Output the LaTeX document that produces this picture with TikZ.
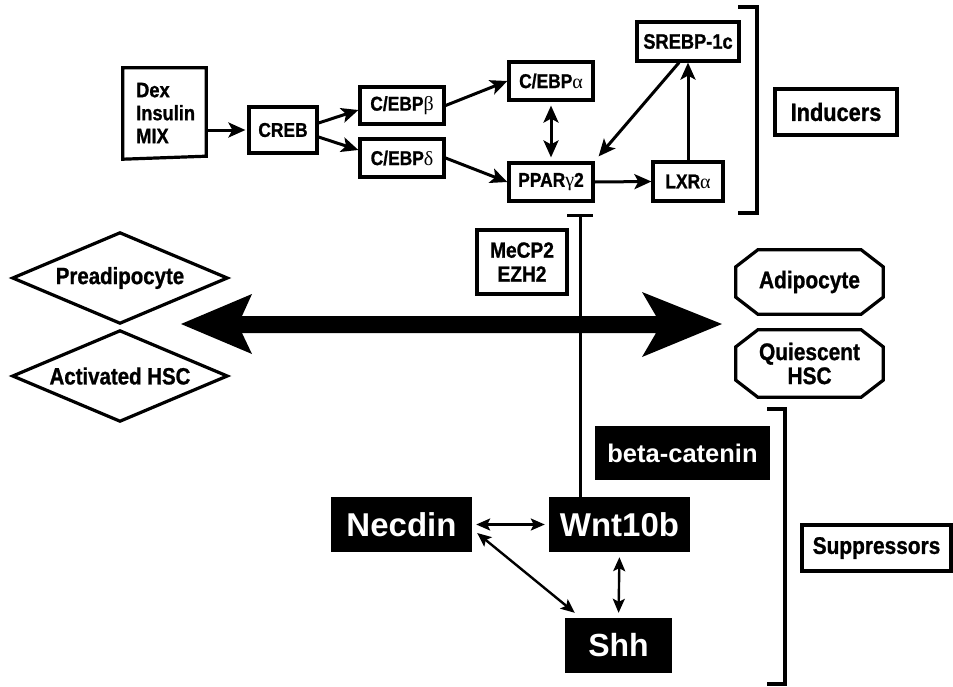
\documentclass[tikz,border=0pt]{standalone}
\usepackage{fontspec}
\setmainfont{Liberation Sans}[FakeStretch=0.87, BoldFeatures={FakeBold=1}]
\newfontfamily\widefont{Liberation Sans}
\newfontfamily\grk{Liberation Serif}
\usetikzlibrary{arrows.meta,calc}
\newcommand\fs[1]{\fontsize{#1}{#1}\selectfont}
\newcommand\gk[1]{{\grk\mdseries #1}}
\newcommand\myoct[1]{%
  \draw[line width=3.2pt,line join=miter]
   ([xshift=22pt]#1.north west) -- ([xshift=-22pt]#1.north east) --
   ([yshift=-17pt]#1.north east) -- ([yshift=17pt]#1.south east) --
   ([xshift=-22pt]#1.south east) -- ([xshift=22pt]#1.south west) --
   ([yshift=17pt]#1.south west) -- ([yshift=-17pt]#1.north west) -- cycle;}
\newcommand\mydiam[1]{%
  \draw[line width=3.2pt,line join=miter]
   (#1.west) -- (#1.north) -- (#1.east) -- (#1.south) -- cycle;}
\begin{document}
\begin{tikzpicture}[x=1pt,y=-1pt,
  lab/.style={draw, line width=3.2pt, inner sep=0pt, align=center, font=\bfseries\fs{20}},
  ghost/.style={inner sep=0pt, draw=none, align=center, font=\bfseries\fs{23.5}},
  blk/.style={fill=black, text=white, inner sep=0pt, font=\widefont\bfseries\fs{33}},
  arr/.style={line width=3pt, -{Stealth[length=17pt,width=15pt,inset=4pt]}},
  arrb/.style={line width=3pt, {Stealth[length=17pt,width=15pt,inset=4pt]}-{Stealth[length=17pt,width=15pt,inset=4pt]}},
  sarrb/.style={line width=2.4pt, {Stealth[length=14pt,width=12pt,inset=3pt]}-{Stealth[length=14pt,width=12pt,inset=3pt]}},
  inh/.style={line width=3pt}
]
\fill[white] (0,0) rectangle (953,686);
\useasboundingbox (0,0) rectangle (953,686);

% ---- inducers part
\node[ghost, minimum width=83pt, minimum height=91pt] (dexbox) at (164.5,113.5) {};
\draw[line width=3.2pt,line join=miter] (dexbox.north west) -- (dexbox.north east) --
  ([yshift=3pt]dexbox.south east) -- (dexbox.south west) -- cycle;
\node[ghost, anchor=west, align=left, font=\bfseries\fontsize{21}{23}\selectfont] (dextxt) at (136,113) {Dex\\Insulin\\MIX};

\node[lab, minimum width=68pt, minimum height=46pt] (creb) at (283,130) {CREB};
\node[lab, minimum width=84pt, minimum height=37pt] (ceb) at (402,105.5) {C/EBP\gk{β}};
\node[lab, minimum width=84pt, minimum height=38pt] (ced) at (402,158) {C/EBP\gk{δ}};
\node[lab, minimum width=84pt, minimum height=38pt] (cea) at (551,81) {C/EBP\gk{α}};
\node[lab, minimum width=84pt, minimum height=38pt] (ppar) at (551,182) {PPAR\gk{γ}2};
\node[lab, minimum width=102pt, minimum height=39pt, font=\bfseries\fs{21}] (srebp) at (688,41.5) {SREBP-1c};
\node[lab, minimum width=70pt, minimum height=39pt] (lxr) at (688,181.5) {LXR\gk{α}};
\node[lab, minimum width=122pt, minimum height=46pt, font=\bfseries\fs{25}] (ind) at (836,112) {Inducers};

\draw[arr, shorten >=2pt] (dexbox.east |- creb.west) -- (creb.west);
\draw[arr] ([yshift=7pt]creb.east) -- ([yshift=-4.5pt]ceb.west);
\draw[arr] ([yshift=-7pt]creb.east) -- ([yshift=8pt]ced.west);
\draw[arr] (ceb.east) -- (cea.west);
\draw[arr] (ced.east) -- (ppar.west);
\draw[arrb, shorten >=4pt, shorten <=4pt] (cea.south) -- (ppar.north);
\draw[arr] ([xshift=-9pt]srebp.south) -- ([shift={(4pt,5pt)}]ppar.north east);
\draw[arr] (lxr.north) -- (srebp.south);
\draw[arr] (ppar.east) -- (lxr.west);

\draw[line width=3.2pt] (738,7) -- (757,7) -- (757,213) -- (738,213);

% ---- middle
\node[lab, minimum width=90pt, minimum height=64pt, font=\bfseries\fontsize{22}{24}\selectfont] (mecp) at (522,262) {MeCP2\\EZH2};

\node[ghost, minimum width=214pt, minimum height=90pt] (prea) at (120,278) {Preadipocyte};
\mydiam{prea}
\node[ghost, minimum width=214pt, minimum height=90pt] (actv) at (120,376) {Activated HSC};
\mydiam{actv}

\node[ghost, minimum width=147pt, minimum height=64pt, font=\bfseries\fs{24}] (adip) at (809.5,282) {Adipocyte};
\myoct{adip}
\node[ghost, minimum width=147pt, minimum height=67pt, font=\bfseries\fontsize{24}{24}\selectfont] (quie) at (809.5,363.5) {Quiescent\\HSC};
\myoct{quie}

\fill[black] (181,324) -- (252,294) -- (242,316) -- (656,316) -- (642,292) -- (722,324)
  -- (642,357) -- (656,333) -- (242,333) -- (252,354) -- cycle;

% ---- suppressors part
\node[blk, minimum width=175pt, minimum height=54pt, font=\widefont\bfseries\fs{25.5}] (beta) at (682.5,453) {beta-catenin};
\node[blk, minimum width=141pt, minimum height=55pt] (necdin) at (401.5,524.5) {Necdin};
\node[blk, minimum width=141pt, minimum height=55pt] (wnt) at (619.5,524.5) {Wnt10b};
\node[blk, minimum width=107pt, minimum height=55pt, font=\widefont\bfseries\fs{32}] (shh) at (618.5,645.5) {Shh};
\node[lab, minimum width=149pt, minimum height=46pt, font=\bfseries\fs{24}] (supp) at (876.5,548) {Suppressors};

\draw[sarrb, shorten >=4pt, shorten <=4pt] (necdin.east) -- (wnt.west);
\draw[sarrb] ([shift={(5pt,-8.5pt)}]necdin.east) -- ([shift={(10pt,5pt)}]shh.north west);
\draw[sarrb, shorten >=5pt, shorten <=5pt] (wnt.south) -- (shh.north);

\draw[line width=3.2pt] (767,409) -- (785,409) -- (785,684) -- (767,684);

% ---- inhibition line
\coordinate (inhtop) at (580,215);
\draw[inh] (inhtop) -- (inhtop |- wnt.north);
\draw[inh] ([xshift=-13pt]inhtop) -- ([xshift=13pt]inhtop);
\end{tikzpicture}
\end{document}
